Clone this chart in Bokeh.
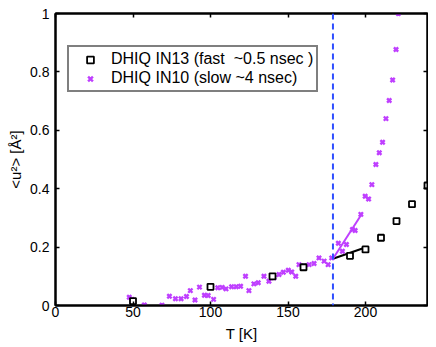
from bokeh.plotting import figure
from bokeh.models import (Span, LinearAxis, FixedTicker, Legend, LegendItem, Range1d,
                          CustomJSTickFormatter)
from bokeh.embed import file_html
from bokeh.resources import INLINE

# ---- data ----
fast_T = [50, 100, 140, 160, 190, 200, 210, 220, 230, 240]
fast_u2 = [0.015, 0.064, 0.100, 0.131, 0.170, 0.192, 0.232, 0.289, 0.347, 0.411]

slow_T = [47.6, 49.3, 49.7, 49.7, 57.3, 68.7, 73.5, 77.4, 81.0, 84.5, 87.0, 90.0,
          92.9, 96.1, 98.5, 102.0, 104.7, 107.5, 110.0, 113.6, 116.6, 119.4, 122.6,
          124.8, 128.0, 130.8, 134.5, 137.7, 141.0, 144.2, 147.0, 150.2, 152.4, 155.0,
          157.1, 160.3, 163.6, 166.8, 170.0, 173.3, 175.9, 178.2, 182.5, 185.1, 187.7,
          191.6, 193.3, 197.0, 199.8, 202.0, 204.1, 206.7, 208.9, 211.0, 213.2, 215.3,
          217.5, 219.7, 221.2]
slow_u2 = [0.028, 0.021, 0.011, 0.004, 0.002, 0.001, 0.032, 0.023, 0.023, 0.031, 0.051, 0.019,
           0.063, 0.035, 0.034, 0.021, 0.061, 0.062, 0.057, 0.064, 0.064, 0.066, 0.100,
           0.051, 0.074, 0.078, 0.100, 0.083, 0.095, 0.106, 0.114, 0.121, 0.115, 0.100,
           0.140, 0.135, 0.140, 0.144, 0.163, 0.152, 0.140, 0.163, 0.213, 0.186, 0.209,
           0.260, 0.257, 0.312, 0.374, 0.365, 0.414, 0.483, 0.523, 0.559, 0.640, 0.702,
           0.772, 0.877, 1.000]

fit_fast_T = [179, 198]
fit_fast_u2 = [0.160, 0.195]
fit_slow_T = [179, 198]
fit_slow_u2 = [0.160, 0.317]

tg_T = 179

x_ticks = [0, 50, 100, 150, 200]
x_tick_labels = ["0", "50", "100", "150", "200"]
y_ticks = [0, 0.2, 0.4, 0.6, 0.8, 1]
y_tick_labels = ["0", "0.2", "0.4", "0.6", "0.8", "1"]

label_fast = "DHIQ IN13 (fast  ~0.5 nsec )"
label_slow = "DHIQ IN10 (slow ~4 nsec)"

FONT = "Liberation Sans"
PURPLE = "#BF3FFF"

p = figure(width=428, height=346, output_backend="svg", toolbar_location=None,
           x_range=Range1d(0, 240), y_range=Range1d(0, 1),
           min_border_left=55, min_border_right=1, min_border_top=13, min_border_bottom=41)
p.grid.visible = False
p.outline_line_color = "black"
p.outline_line_width = 2
p.background_fill_color = "white"
p.border_fill_color = "white"

def style_axis(ax, ticks, labels, show_labels=True):
    ax.ticker = FixedTicker(ticks=ticks)
    ax.axis_line_color = "black"
    ax.axis_line_width = 2
    ax.major_tick_in = 4
    ax.major_tick_out = 0
    ax.major_tick_line_width = 1.5
    ax.minor_tick_line_color = None
    ax.major_label_text_font = FONT
    ax.major_label_text_color = "black"
    ax.major_label_text_font_size = "14px"
    if show_labels:
        ax.major_label_overrides = dict(zip(ticks, labels))
    else:
        ax.formatter = CustomJSTickFormatter(code="return ''")
        ax.major_label_standoff = 0

style_axis(p.xaxis[0], x_ticks, x_tick_labels)
style_axis(p.yaxis[0], y_ticks, y_tick_labels)
p.xaxis[0].major_label_standoff = 1
p.yaxis[0].major_label_standoff = 6
p.xaxis[0].axis_label = "T [K]"
p.yaxis[0].axis_label = "<u²> [Å²]"
for ax in (p.xaxis[0], p.yaxis[0]):
    ax.axis_label_text_font = FONT
    ax.axis_label_text_font_size = "15px"
    ax.axis_label_text_font_style = "normal"
    ax.axis_label_text_color = "black"
p.xaxis[0].axis_label_standoff = 5
p.yaxis[0].axis_label_standoff = 3

top_ax = LinearAxis()
right_ax = LinearAxis()
style_axis(top_ax, x_ticks, x_tick_labels, show_labels=False)
style_axis(right_ax, y_ticks, y_tick_labels, show_labels=False)
p.add_layout(top_ax, "above")
p.add_layout(right_ax, "right")

span = Span(location=tg_T, dimension="height", line_color="#2F4FFF",
            line_width=2, line_dash="6 4")
p.add_layout(span)

p.line(fit_fast_T, fit_fast_u2, line_color="black", line_width=2)
p.line(fit_slow_T, fit_slow_u2, line_color=PURPLE, line_width=2)

r_slow = p.scatter(slow_T, slow_u2, marker="x", size=6, line_color=PURPLE, line_width=2.4)
r_fast = p.scatter(fast_T, fast_u2, marker="square", size=6, fill_color="white",
                   line_color="black", line_width=1.8)

legend = Legend(items=[LegendItem(label=label_fast, renderers=[r_fast]),
                       LegendItem(label=label_slow, renderers=[r_slow])],
                location=(12, 213))
legend.label_text_font = FONT
legend.label_text_font_size = "16px"
legend.label_text_color = "black"
legend.border_line_color = "black"
legend.border_line_width = 2
legend.background_fill_alpha = 1
legend.padding = 3
legend.margin = 0
legend.spacing = 1
legend.glyph_width = 36
legend.glyph_height = 17
legend.label_height = 17
legend.label_standoff = 3
p.add_layout(legend, "center")

open("out.html", "w").write(file_html(p, INLINE))
